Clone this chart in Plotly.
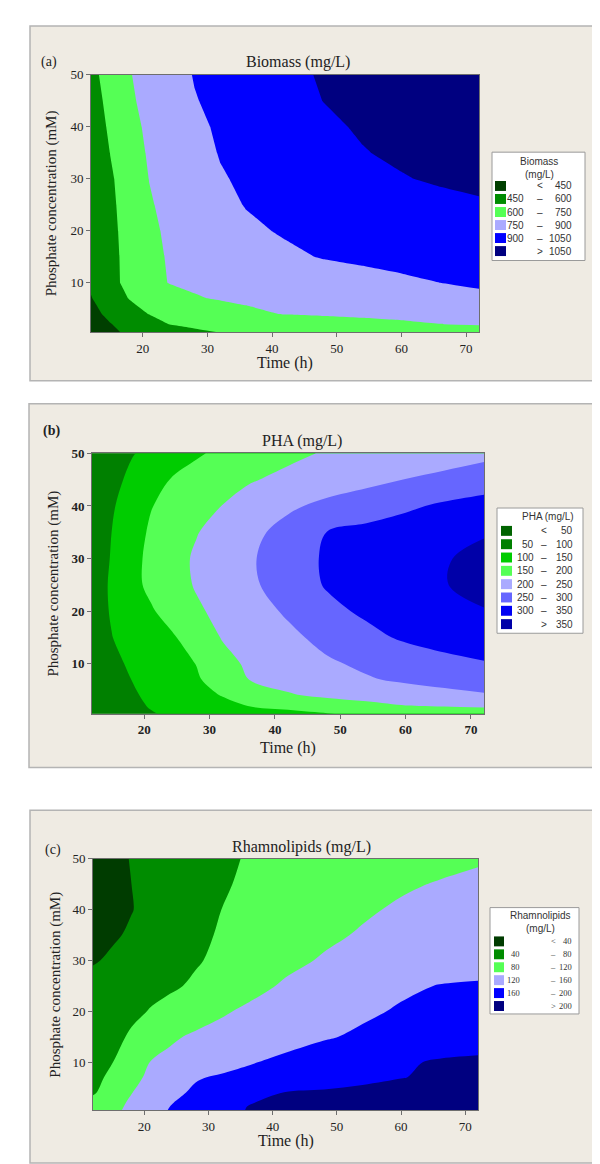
import plotly.graph_objects as go

W, H = 600, 1164

# grid the three response surfaces are read on
TIME = [12, 15, 18, 21, 24, 28, 32, 36, 42, 48, 54, 60, 66, 72]
PHOSPHATE = [0.5, 2, 4, 7, 10, 15, 20, 25, 30, 35, 40, 45, 50]

# rows follow PHOSPHATE (bottom -> top), columns follow TIME
BIOMASS = [
    [396, 432, 468, 504, 540, 588, 602, 604, 608, 611, 615, 619, 622, 626],
    [393, 445, 497, 548, 600, 614, 628, 642, 663, 684, 705, 726, 748, 769],
    [413, 479, 545, 604, 628, 661, 693, 726, 755, 766, 777, 788, 799, 810],
    [444, 529, 607, 647, 688, 742, 759, 770, 786, 803, 819, 835, 852, 868],
    [470, 565, 635, 704, 753, 767, 781, 795, 816, 837, 858, 879, 900, 921],
    [468, 566, 639, 713, 760, 786, 813, 839, 879, 907, 923, 938, 954, 970],
    [465, 569, 647, 724, 769, 806, 843, 880, 911, 929, 947, 964, 982, 1000],
    [460, 575, 657, 739, 779, 825, 870, 905, 926, 947, 968, 989, 1010, 1030],
    [460, 583, 669, 752, 790, 841, 891, 917, 948, 980, 1011, 1042, 1068, 1092],
    [484, 603, 691, 764, 804, 859, 906, 931, 969, 1006, 1044, 1072, 1099, 1122],
    [512, 624, 712, 774, 818, 875, 916, 944, 985, 1027, 1064, 1093, 1120, 1145],
    [536, 642, 732, 787, 833, 894, 928, 959, 1006, 1052, 1088, 1124, 1160, 1190],
    [560, 658, 744, 796, 846, 906, 938, 970, 1018, 1062, 1098, 1134, 1170, 1200],
]

PHA = [
    [62, 74, 86, 98, 104, 112, 119, 126, 137, 148, 158, 167, 176, 185],
    [73, 83, 93, 102, 112, 125, 138, 151, 163, 175, 187, 199, 202, 204],
    [70, 82, 95, 107, 119, 136, 152, 170, 196, 208, 217, 226, 236, 245],
    [73, 87, 100, 113, 127, 145, 171, 200, 215, 231, 246, 257, 266, 275],
    [78, 91, 105, 119, 133, 151, 185, 207, 225, 244, 258, 270, 283, 295],
    [84, 99, 114, 128, 143, 172, 203, 218, 240, 263, 287, 307, 323, 340],
    [82, 103, 124, 145, 166, 193, 213, 230, 256, 288, 308, 321, 334, 347],
    [76, 106, 136, 160, 179, 204, 222, 240, 274, 304, 319, 333, 348, 368],
    [71, 103, 135, 161, 182, 206, 225, 243, 278, 306, 319, 332, 346, 366],
    [70, 100, 130, 156, 174, 198, 217, 236, 267, 301, 312, 323, 334, 345],
    [68, 95, 121, 148, 163, 182, 201, 218, 242, 262, 277, 292, 308, 322],
    [65, 87, 109, 131, 151, 166, 181, 196, 211, 224, 237, 251, 260, 270],
    [68, 82, 97, 111, 126, 145, 159, 171, 190, 204, 213, 222, 231, 240],
]

RHAMNOLIPIDS = [
    [94, 111, 129, 146, 162, 175, 188, 201, 205, 209, 213, 217, 222, 226],
    [91, 108, 125, 142, 158, 172, 186, 199, 204, 208, 212, 217, 221, 225],
    [76, 97, 119, 135, 150, 166, 177, 188, 201, 204, 208, 212, 215, 219],
    [68, 89, 110, 127, 140, 157, 164, 169, 177, 184, 192, 199, 205, 211],
    [58, 79, 101, 121, 128, 138, 147, 157, 167, 177, 186, 196, 203, 204],
    [54, 69, 85, 100, 115, 125, 131, 138, 148, 157, 165, 173, 181, 189],
    [54, 63, 72, 82, 91, 104, 116, 125, 135, 145, 155, 163, 170, 176],
    [52, 58, 64, 70, 75, 85, 97, 109, 124, 134, 145, 155, 161, 162],
    [37, 45, 52, 60, 67, 77, 87, 97, 112, 123, 130, 138, 145, 152],
    [27, 36, 44, 53, 61, 73, 83, 91, 102, 114, 123, 130, 137, 144],
    [22, 31, 39, 48, 57, 69, 80, 87, 97, 106, 116, 124, 129, 135],
    [24, 32, 40, 48, 56, 66, 77, 84, 92, 100, 108, 116, 122, 126],
    [27, 34, 41, 48, 55, 65, 74, 82, 87, 93, 99, 105, 111, 117],
]

BIOMASS_LEVELS = [450, 600, 750, 900, 1050]
PHA_LEVELS = [50, 100, 150, 200, 250, 300, 350]
RHAM_LEVELS = [40, 80, 120, 160, 200]

BIOMASS_COLORS = ["#003f00", "#008c00", "#55ff55", "#aaaaff", "#0000ff", "#000080"]
PHA_COLORS = ["#006400", "#008000", "#00cc00", "#55ff55", "#aaaaff", "#6666ff", "#0000f4", "#0000a8"]
RHAM_COLORS = ["#003c00", "#008c00", "#55ff55", "#aaaaff", "#0000ff", "#000080"]

X_TICKS = [20, 30, 40, 50, 60, 70]
Y_TICKS = [10, 20, 30, 40, 50]

SERIF = "Liberation Serif"
SANS = "Liberation Sans"
BEIGE = "#efebe3"
INK = "#222222"
LEG_INK = "#333333"


def fx(x):
    return x / W


def fy(y):
    return 1 - y / H


PANELS = [
    dict(tag="(a)", title="Biomass (mg/L)", z=BIOMASS, levels=BIOMASS_LEVELS,
         colors=BIOMASS_COLORS, smooth=0, bold=False,
         box=(22, 11, 587, 368), plot=(83, 60, 471, 319),
         tag_xy=(41, 47), title_xy=(290, 47), xlab_y=350, ylab_x=43,
         leg=dict(box=(484, 138, 577, 247), head=["Biomass", "(mg/L)"], head_y=[147, 160],
                  head_x=531, row0=172, step=13.1, sw=(487, 498),
                  cols=(518, 532, 566), font=SANS, size=10)),
    dict(tag="(b)", title="PHA (mg/L)", z=PHA, levels=PHA_LEVELS,
         colors=PHA_COLORS, smooth=1.0, bold=True,
         box=(21, 391, 587, 757), plot=(84, 441, 476, 703),
         tag_xy=(43, 419), title_xy=(294, 429), xlab_y=737, ylab_x=46,
         leg=dict(box=(489, 496, 575, 622), head=["PHA (mg/L)"], head_y=[505],
                  head_x=540, row0=519, step=13.4, sw=(493, 504),
                  cols=(528, 536, 567), font=SANS, size=10)),
    dict(tag="(c)", title="Rhamnolipids (mg/L)", z=RHAMNOLIPIDS, levels=RHAM_LEVELS,
         colors=RHAM_COLORS, smooth=1.0, bold=False,
         box=(22, 800, 585, 1155), plot=(85, 849, 470, 1102),
         tag_xy=(45, 840), title_xy=(293, 837), xlab_y=1133, ylab_x=48,
         leg=dict(box=(482, 898, 571, 1005), head=["Rhamnolipids", "(mg/L)"], head_y=[906, 919],
                  head_x=532, row0=932, step=13.0, sw=(486, 496),
                  cols=(514, 545, 566), font=SERIF, size=8.5)),
]

fig = go.Figure()
shapes, annotations = [], []


def text(s, x, y, size, family=SERIF, xanchor="center", angle=0, color=INK):
    annotations.append(dict(
        text=s, x=fx(x), y=fy(y), xref="paper", yref="paper",
        xanchor=xanchor, yanchor="middle", showarrow=False, textangle=angle,
        font=dict(family=family, size=size, color=color),
    ))


for i, p in enumerate(PANELS, start=1):
    sfx = "" if i == 1 else str(i)
    levels, colors = p["levels"], p["colors"]
    n = len(levels)
    step = levels[1] - levels[0]

    # beige panel frame
    bx0, by0, bx1, by1 = p["box"]
    shapes.append(dict(type="rect", xref="paper", yref="paper", layer="below",
                       x0=fx(bx0), x1=fx(bx1), y0=fy(by1), y1=fy(by0),
                       fillcolor=BEIGE, line=dict(color="#b4b4b4", width=1.5)))

    fig.add_trace(go.Contour(
        x=TIME, y=PHOSPHATE, z=p["z"],
        xaxis="x" + sfx, yaxis="y" + sfx,
        autocontour=False,
        contours=dict(start=levels[0], end=levels[-1], size=step,
                      coloring="fill", showlines=False),
        colorscale=[[j / n, c] for j, c in enumerate(colors)],
        line=dict(width=0, smoothing=p["smooth"]),
        showscale=False, hoverinfo="skip",
    ))

    x0, y0, x1, y1 = p["plot"]
    tick_font = dict(family=SERIF, size=13, color=INK, weight="bold" if p["bold"] else "normal")
    common = dict(showline=True, linecolor="#6e6e6e", linewidth=1, mirror=True,
                  ticks="outside", ticklen=4, tickcolor="#6e6e6e", showgrid=False,
                  zeroline=False, tickfont=tick_font)
    fig.update_layout(**{
        "xaxis" + sfx: dict(domain=[fx(x0), fx(x1)], anchor="y" + sfx, range=[12, 72],
                            tickvals=X_TICKS, **common),
        "yaxis" + sfx: dict(domain=[fy(y1), fy(y0)], anchor="x" + sfx, range=[0.5, 50],
                            tickvals=Y_TICKS, **common),
    })

    tag = f"<b>{p['tag']}</b>" if p["bold"] else p["tag"]
    text(tag, *p["tag_xy"], 14)
    text(p["title"], *p["title_xy"], 16)
    text("Time (h)", (x0 + x1) / 2, p["xlab_y"], 16)
    text("Phosphate concentration (mM)", p["ylab_x"], (y0 + y1) / 2, 15, angle=-90)

    # Minitab style legend box
    lg = p["leg"]
    lx0, ly0, lx1, ly1 = lg["box"]
    shapes.append(dict(type="rect", xref="paper", yref="paper",
                       x0=fx(lx0), x1=fx(lx1), y0=fy(ly1), y1=fy(ly0),
                       fillcolor="white", line=dict(color="#9a9a9a", width=1)))
    for line, ly in zip(lg["head"], lg["head_y"]):
        text(line, lg["head_x"], ly, 10, family=SANS, color=LEG_INK)
    cl, cs, cr = lg["cols"]
    fs = lg["size"]
    for j, c in enumerate(colors):
        ry = lg["row0"] + j * lg["step"]
        shapes.append(dict(type="rect", xref="paper", yref="paper",
                           x0=fx(lg["sw"][0]), x1=fx(lg["sw"][1]),
                           y0=fy(ry + 5), y1=fy(ry - 5),
                           fillcolor=c, line=dict(width=0)))
        if j == 0:
            left, sym, right = "", "<", levels[0]
        elif j == n:
            left, sym, right = "", ">", levels[-1]
        else:
            left, sym, right = levels[j - 1], "–", levels[j]
        if left != "":
            text(str(left), cl, ry, fs, family=lg["font"], xanchor="right", color=LEG_INK)
        text(sym, cs, ry, fs, family=lg["font"], color=LEG_INK)
        text(str(right), cr, ry, fs, family=lg["font"], xanchor="right", color=LEG_INK)

fig.update_layout(
    width=W, height=H,
    margin=dict(l=0, r=0, t=0, b=0),
    paper_bgcolor="white",
    plot_bgcolor="rgba(0,0,0,0)",
    showlegend=False,
    shapes=shapes,
    annotations=annotations,
)

fig.write_html("out.html")
